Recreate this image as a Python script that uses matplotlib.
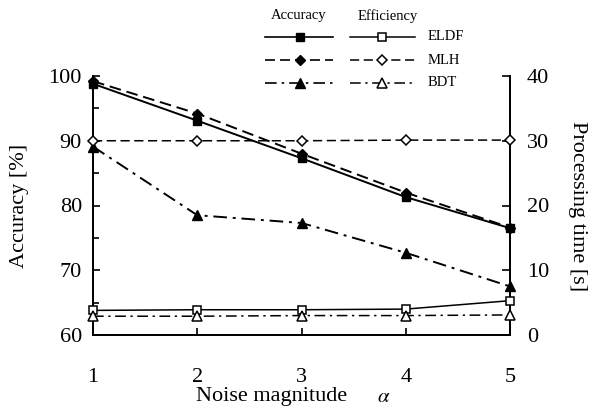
import matplotlib
matplotlib.use("Agg")
import matplotlib.pyplot as plt
from matplotlib.lines import Line2D
from matplotlib.ticker import MultipleLocator

plt.rcParams['font.family'] = ['Liberation Serif', 'DejaVu Serif']
plt.rcParams['mathtext.fontset'] = 'stix'

noise = [1, 2, 3, 4, 5]
eldf_acc = [98.8, 93.1, 87.3, 81.3, 76.5]
mlh_acc = [99.2, 94.2, 88.0, 82.0, 76.6]
bdt_acc = [89.1, 78.5, 77.3, 72.7, 67.5]
eldf_time = [3.8, 3.9, 3.9, 4.0, 5.3]
mlh_time = [30.0, 30.0, 30.0, 30.1, 30.1]
bdt_time = [2.9, 2.9, 3.0, 3.0, 3.1]
methods = ["ELDF", "MLH", "BDT"]

W, H = 611, 407
fig = plt.figure(figsize=(W / 100, H / 100), dpi=100)
ax = fig.add_axes([93 / W, 1 - 335 / H, (510 - 93) / W, (335 - 76) / H])
ax2 = ax.twinx()

dash = (0, (6, 3))
dashdot = (0, (7, 3, 1.5, 3))
styles = [
    dict(ls='-', marker='s'),
    dict(ls=dash, marker='D'),
    dict(ls=dashdot, marker='^'),
]
ms = {'s': 6, 'D': 5.5, '^': 7}

for vals, st in zip([eldf_acc, mlh_acc, bdt_acc], styles):
    ax.plot(noise, vals, color='black', lw=1.4, linestyle=st['ls'], marker=st['marker'],
            markersize=ms[st['marker']], markerfacecolor='black', markeredgecolor='black',
            clip_on=False, zorder=3)
for vals, st in zip([eldf_time, mlh_time, bdt_time], styles):
    ax2.plot(noise, vals, color='black', lw=1.1, linestyle=st['ls'], marker=st['marker'],
             markersize=ms[st['marker']], markerfacecolor='white', markeredgecolor='black',
             markeredgewidth=1.1, clip_on=False, zorder=3)

ax.set_xlim(1, 5)
ax.set_ylim(60, 100)
ax2.set_ylim(0, 40)
ax.set_xticks(noise)
ax.set_yticks([60, 70, 80, 90, 100])
ax.yaxis.set_minor_locator(MultipleLocator(5))
ax2.set_yticks([0, 10, 20, 30, 40])

for a in (ax, ax2):
    a.spines['top'].set_visible(False)
    for s in a.spines.values():
        s.set_linewidth(1.3)
ax.tick_params(axis='x', direction='in', length=5, width=1.2, labelsize=16, pad=24)
ax.tick_params(axis='y', which='both', direction='in', length=5, width=1.2, labelsize=16, pad=8)
ax.tick_params(axis='y', which='minor', length=4)
ax2.tick_params(axis='y', direction='in', length=6, width=1.2, labelsize=16, pad=12)

fig.text(20 / W, 1 - 206 / H, "Accuracy [%]", rotation=90, ha='center', va='center', fontsize=16)
fig.text(577 / W, 1 - 206 / H, "Processing time [s]", rotation=-90, ha='center', va='center', fontsize=16)
fig.text(272 / W, 1 - 397 / H, "Noise magnitude", ha='center', va='center', fontsize=16)
fig.text(384 / W, 1 - 398 / H, r"$\alpha$", ha='center', va='center', fontsize=15)

# custom legend
def fx(px):
    return px / W

def fy(py):
    return 1 - py / H

fig.text(fx(299), fy(16), "Accuracy", ha='center', va='center', fontsize=10.5)
fig.text(fx(388), fy(16), "Efficiency", ha='center', va='center', fontsize=10.5)
rows = [37, 60, 83]
for name, st, ry in zip(methods, styles, rows):
    fig.add_artist(Line2D([fx(265), fx(333)], [fy(ry), fy(ry)], color='black', lw=1.2,
                          linestyle=st['ls'], transform=fig.transFigure))
    fig.add_artist(Line2D([fx(300)], [fy(ry)], color='black', marker=st['marker'],
                          markersize=ms[st['marker']], markerfacecolor='black', ls='none',
                          transform=fig.transFigure))
    fig.add_artist(Line2D([fx(350), fx(415)], [fy(ry), fy(ry)], color='black', lw=1.1,
                          linestyle=st['ls'], transform=fig.transFigure))
    fig.add_artist(Line2D([fx(382)], [fy(ry)], color='black', marker=st['marker'],
                          markersize=ms[st['marker']], markerfacecolor='white',
                          markeredgewidth=1.1, ls='none', transform=fig.transFigure))
    fig.text(fx(428), fy(ry), name, ha='left', va='center', fontsize=10.5)

fig.savefig("out.png", dpi=100)
